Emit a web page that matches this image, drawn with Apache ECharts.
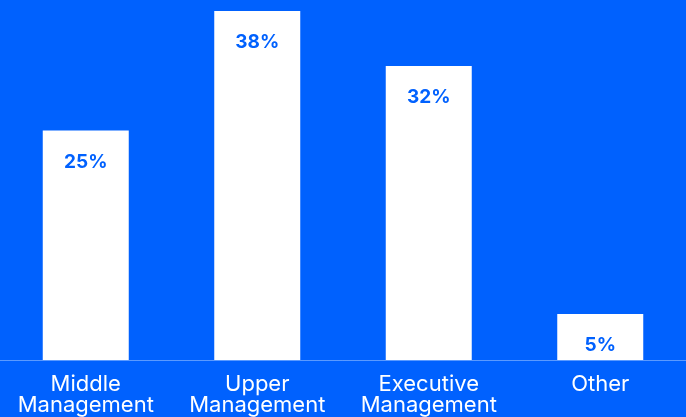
<!DOCTYPE html>
<html>
<head>
<meta charset="utf-8">
<script src="https://cdn.jsdelivr.net/npm/echarts@6/dist/echarts.min.js"></script>
<style>
html, body { margin: 0; padding: 0; background: #0061fe; }
#chart { width: 686px; height: 417px; }
</style>
</head>
<body>
<div id="chart"></div>
<script>
// 分类和数值
var categories = ['Middle\nManagement', 'Upper\nManagement', 'Executive\nManagement', 'Other'];
var values = [25, 38, 32, 5];

var chart = echarts.init(document.getElementById('chart'));
var option = {
    backgroundColor: '#0061fe',
    animation: false,
    grid: { left: 0, right: 0, top: 11, bottom: 57 },
    xAxis: {
        type: 'category',
        data: categories,
        axisTick: { show: false },
        axisLine: { lineStyle: { color: '#5a9aff', width: 1 } },
        axisLabel: {
            interval: 0,
            hideOverlap: false,
            color: '#ffffff',
            fontFamily: 'Inter',
            fontSize: 22,
            lineHeight: 21,
            margin: 14
        }
    },
    yAxis: {
        type: 'value',
        min: 0,
        max: 38,
        show: false,
        splitLine: { show: false }
    },
    series: [{
        type: 'bar',
        data: values,
        barWidth: 86,
        itemStyle: { color: '#ffffff' },
        label: {
            show: true,
            position: 'insideTop',
            distance: 22,
            formatter: '{c}%',
            color: '#0061fe',
            fontFamily: 'Inter',
            fontWeight: 'bold',
            fontSize: 19
        }
    }]
};
chart.setOption(option);
</script>
</body>
</html>
